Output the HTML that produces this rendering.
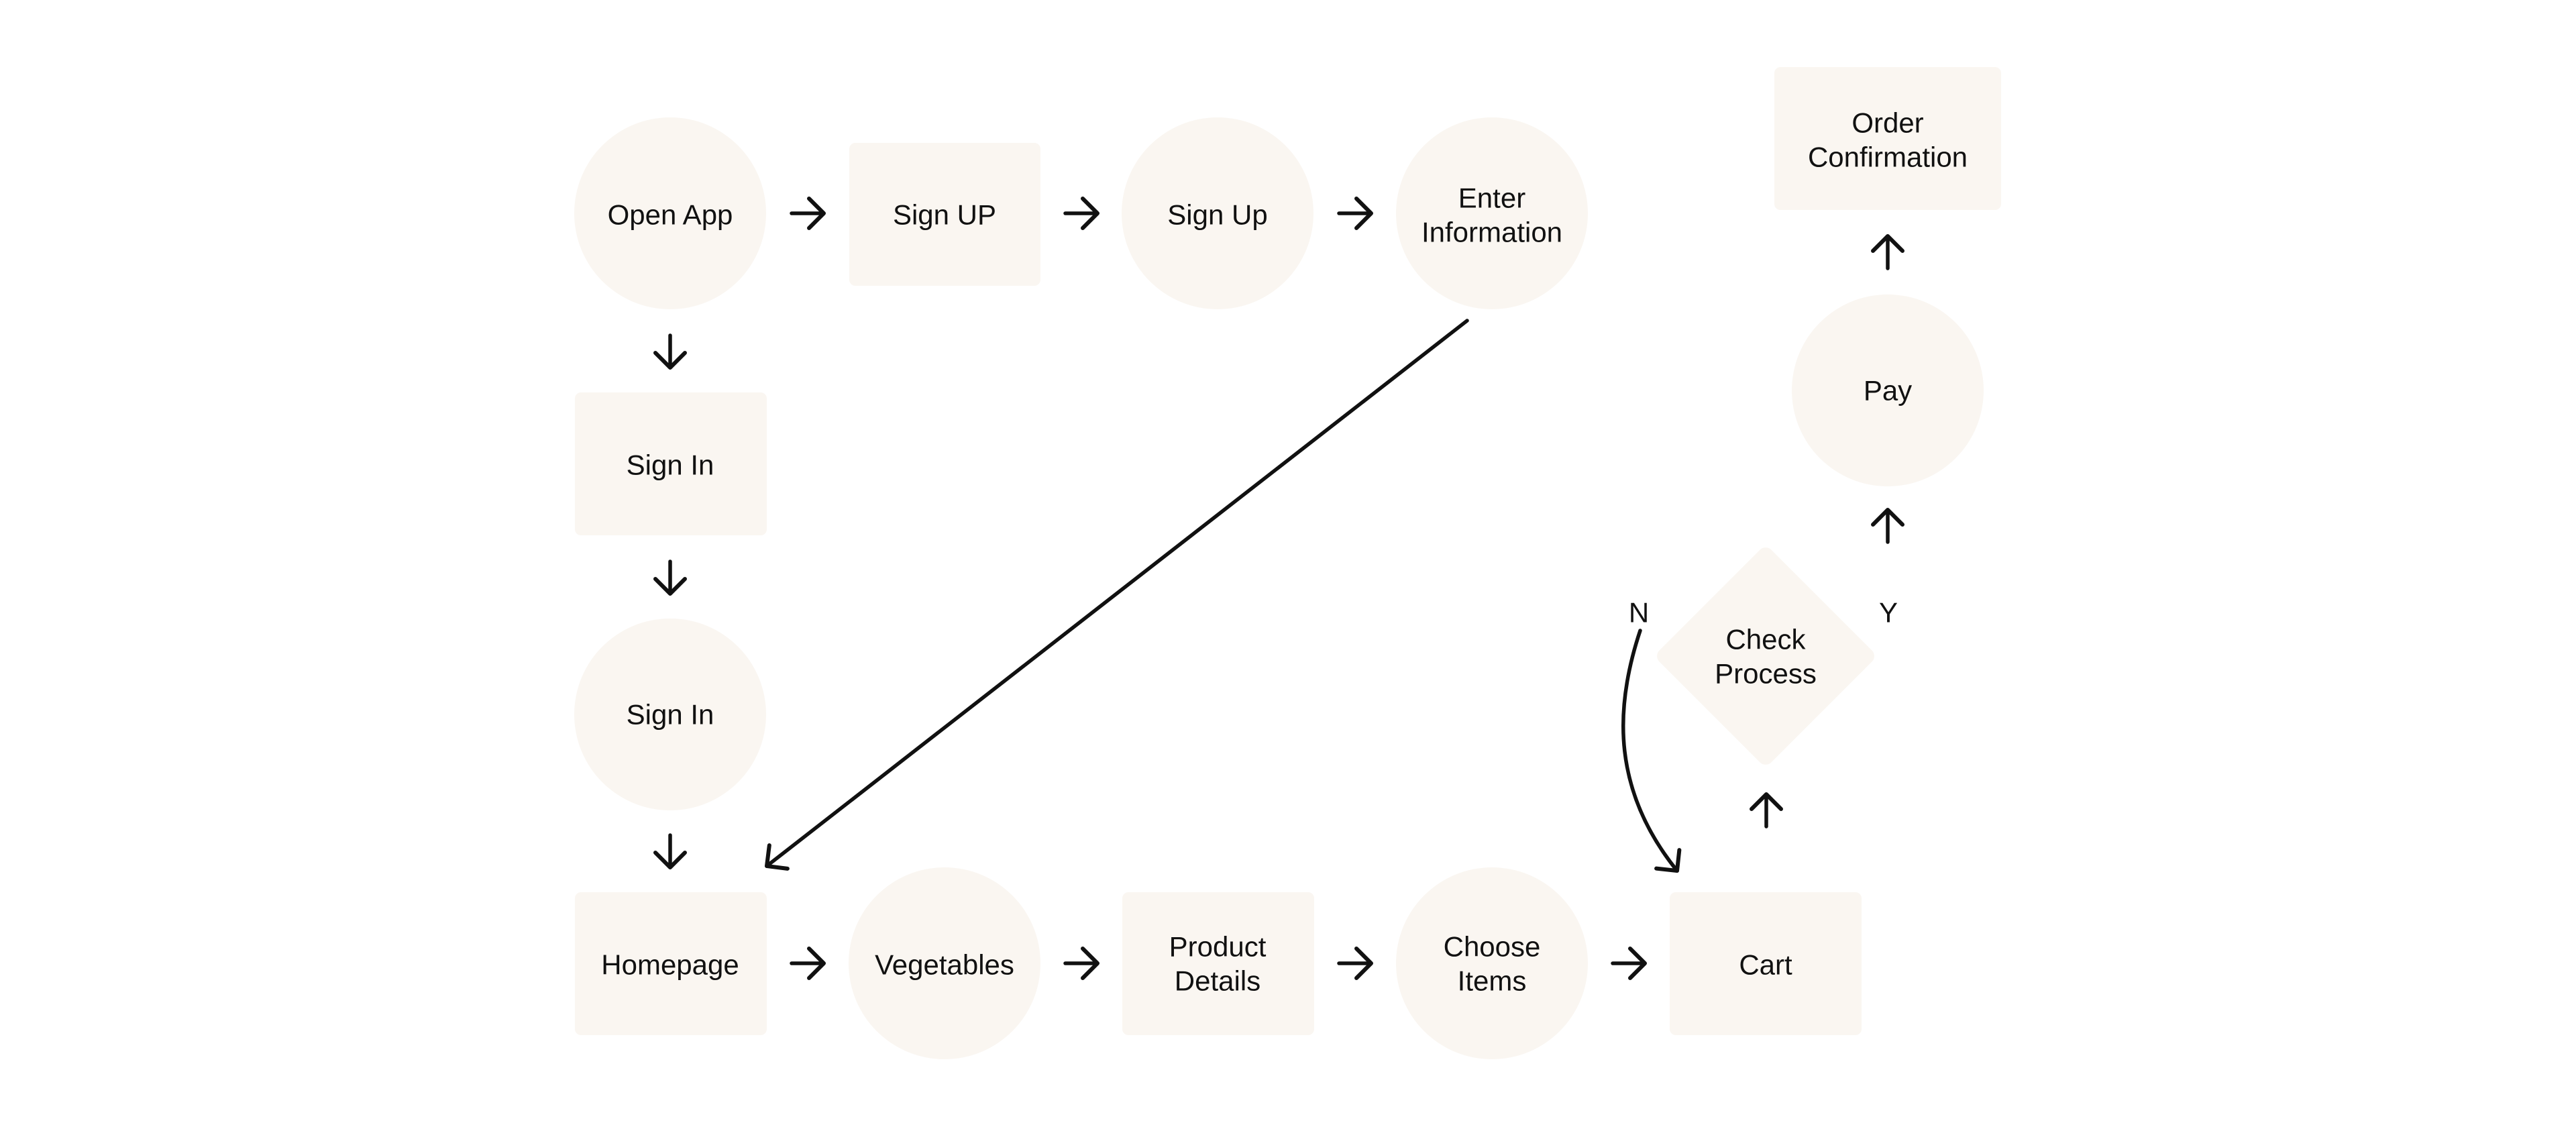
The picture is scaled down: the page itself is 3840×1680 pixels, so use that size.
<!DOCTYPE html>
<html><head><meta charset="utf-8"><style>
html,body{margin:0;padding:0;background:#fff;}
svg{display:block}
text{font-family:"Liberation Sans",sans-serif;font-size:42px;fill:#111;text-anchor:middle;dominant-baseline:central;}
</style></head><body>
<svg width="3840" height="1680" viewBox="0 0 3840 1680" xmlns="http://www.w3.org/2000/svg">
<defs>
<marker id="ah" viewBox="0 0 30 50" refX="26" refY="25" markerWidth="30" markerHeight="50" markerUnits="userSpaceOnUse" orient="auto">
<path d="M4 3 L26 25 L4 47" fill="none" stroke="#111" stroke-width="6" stroke-linecap="round" stroke-linejoin="round"/>
</marker>
</defs>
<g fill="#FAF6F1">
<circle cx="999" cy="318" r="143"/>
<rect x="1266" y="213" width="285" height="213" rx="9"/>
<circle cx="1815" cy="318" r="143"/>
<circle cx="2224" cy="318" r="143"/>
<rect x="857" y="585" width="286" height="213" rx="9"/>
<circle cx="999" cy="1065" r="143"/>
<rect x="857" y="1330" width="286" height="213" rx="9"/>
<circle cx="1408" cy="1436" r="143"/>
<rect x="1673" y="1330" width="286" height="213" rx="9"/>
<circle cx="2224" cy="1436" r="143"/>
<rect x="2489" y="1330" width="286" height="213" rx="9"/>
<rect x="2514" y="860" width="236" height="236" rx="12" transform="rotate(45 2632 978)"/>
<circle cx="2814" cy="582" r="143"/>
<rect x="2645" y="100" width="338" height="213" rx="9"/>
</g>
<g stroke="#111" stroke-width="5.5" fill="none" stroke-linecap="round">
<path d="M1180 318 H1228" marker-end="url(#ah)"/>
<path d="M1588 318 H1636" marker-end="url(#ah)"/>
<path d="M1996 318 H2044" marker-end="url(#ah)"/>
<path d="M999 500 V548" marker-end="url(#ah)"/>
<path d="M999 837 V885" marker-end="url(#ah)"/>
<path d="M999 1245 V1293" marker-end="url(#ah)"/>
<path d="M1180 1436 H1228" marker-end="url(#ah)"/>
<path d="M1588 1436 H1636" marker-end="url(#ah)"/>
<path d="M1996 1436 H2044" marker-end="url(#ah)"/>
<path d="M2404 1436 H2452" marker-end="url(#ah)"/>
<path d="M2633 1232 V1184" marker-end="url(#ah)"/>
<path d="M2814 808 V760" marker-end="url(#ah)"/>
<path d="M2814 400 V352" marker-end="url(#ah)"/>
<path d="M2187 478 L1143 1291" marker-end="url(#ah)"/>
<path d="M2445 940 C2405 1060 2405 1180 2500 1298" marker-end="url(#ah)"/>
</g>
<text x="999" y="320">Open App</text>
<text x="1408" y="320">Sign UP</text>
<text x="1815" y="320">Sign Up</text>
<text x="2224" y="295">Enter</text>
<text x="2224" y="346">Information</text>
<text x="999" y="693">Sign In</text>
<text x="999" y="1065">Sign In</text>
<text x="999" y="1438">Homepage</text>
<text x="1408" y="1438">Vegetables</text>
<text x="1815" y="1411">Product</text>
<text x="1815" y="1462">Details</text>
<text x="2224" y="1411">Choose</text>
<text x="2224" y="1462">Items</text>
<text x="2632" y="1438">Cart</text>
<text x="2632" y="953">Check</text>
<text x="2632" y="1004">Process</text>
<text x="2814" y="582">Pay</text>
<text x="2814" y="183">Order</text>
<text x="2814" y="234">Confirmation</text>
<text x="2443" y="913">N</text>
<text x="2815" y="913">Y</text>
</svg>
</body></html>
